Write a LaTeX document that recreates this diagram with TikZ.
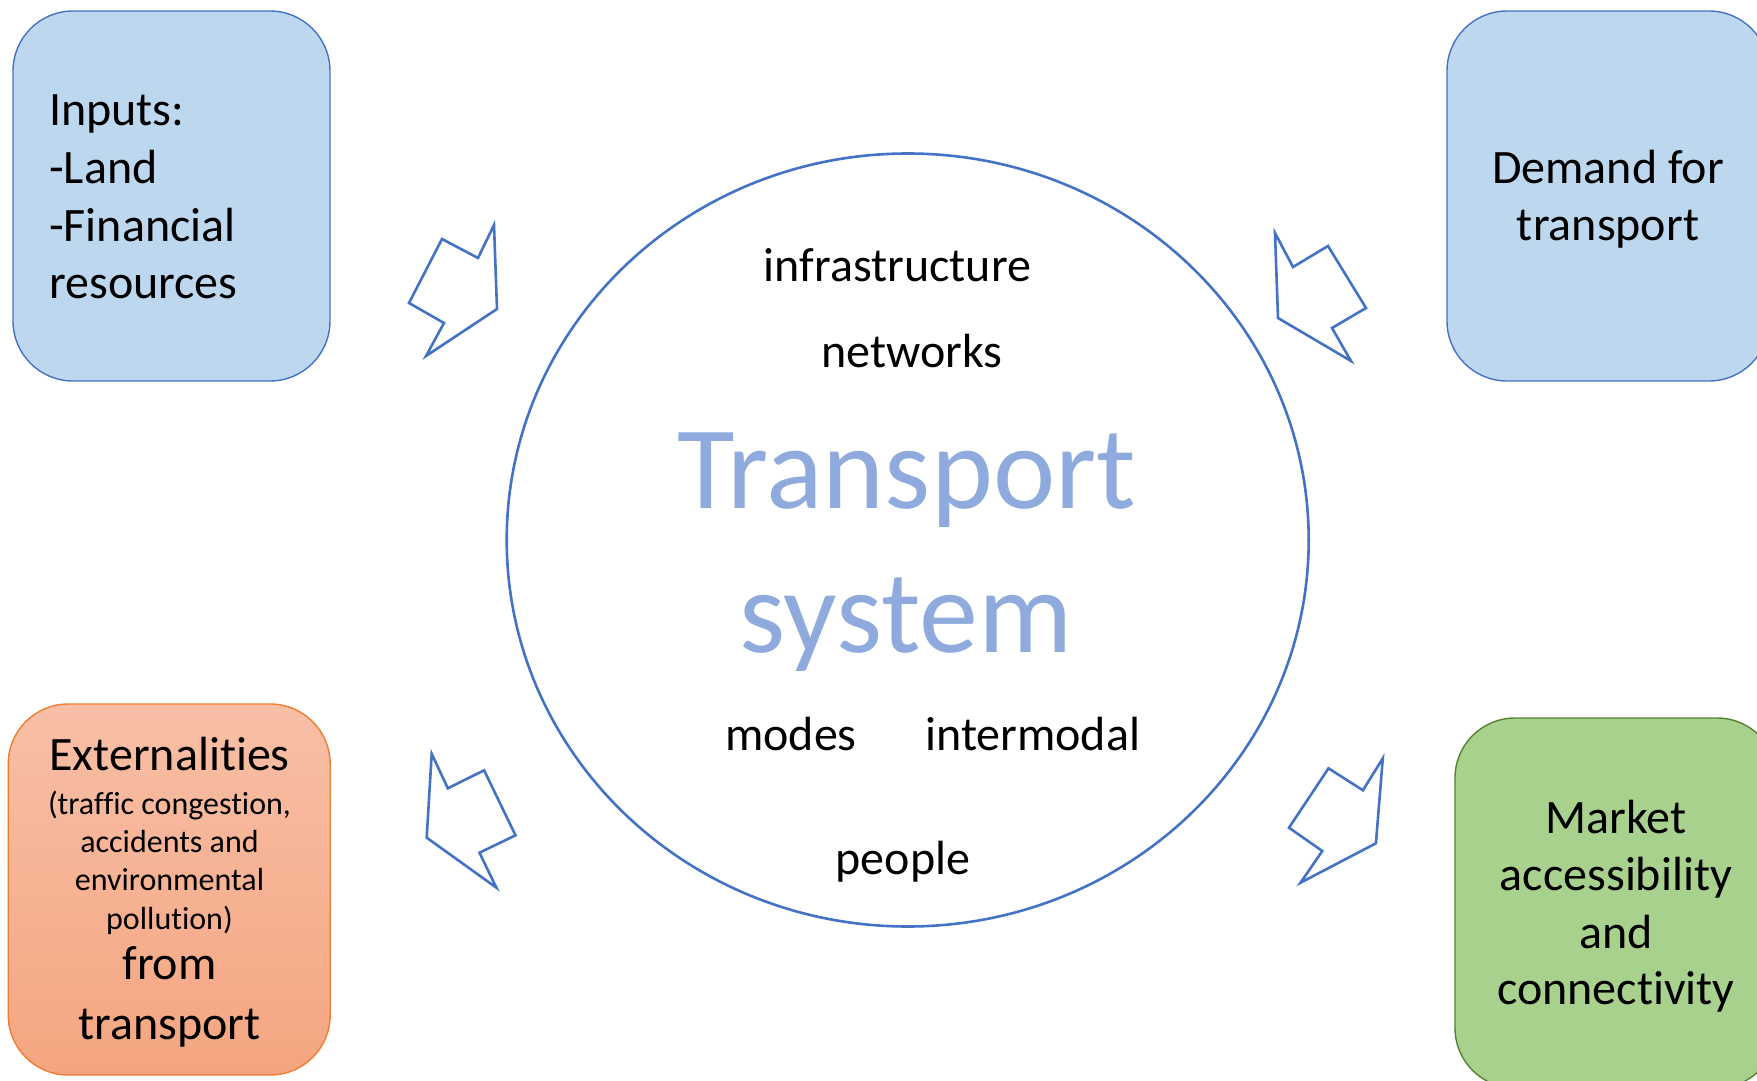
\documentclass[tikz,border=0pt]{standalone}
\usepackage{fontspec}
\setmainfont[Ligatures={NoCommon}]{Carlito}
\usetikzlibrary{shapes.geometric}
\definecolor{boxblue}{HTML}{BDD7EE}
\definecolor{lineblue}{HTML}{4472C4}
\definecolor{titleblue}{HTML}{8FAADC}
\definecolor{orangetop}{HTML}{F8BFA6}
\definecolor{orangebot}{HTML}{F4A580}
\definecolor{orangeline}{HTML}{ED7D31}
\definecolor{greenfill}{HTML}{A9D18E}
\definecolor{greenline}{HTML}{548235}
\tikzset{
  roundbox/.style={rounded corners=60pt, line width=1.4pt, inner sep=0pt, minimum width=320pt, minimum height=370pt},
  bigtxt/.style={anchor=base, inner sep=0pt, font=\fontsize{48}{58}\selectfont},
  smalltxt/.style={anchor=base, inner sep=0pt, font=\fontsize{32}{38}\selectfont},
  titletxt/.style={anchor=base, inner sep=0pt, text=titleblue, font=\fontsize{118}{140}\selectfont},
  blockarrow/.style={draw=lineblue, fill=white, line width=2.6pt, line join=miter}
}
\begin{document}
\begin{tikzpicture}[x=1pt, y=-1pt]
\useasboundingbox (0,0) rectangle (1757,1081);
\clip (0,0) rectangle (1757,1081);
% boxes
\node[roundbox, draw=lineblue, fill=boxblue, minimum width=317pt] (inputs) at (171.5,196) {};
\node[roundbox, draw=lineblue, fill=boxblue, minimum width=322pt] (demand) at (1608,196) {};
\node[roundbox, draw=orangeline, top color=orangetop, bottom color=orangebot, minimum width=322pt, minimum height=371pt] (ext) at (169.2,889.5) {};
\node[roundbox, draw=greenline, fill=greenfill, minimum width=322pt] (market) at (1616,903) {};
% ellipse
\node[draw=lineblue, line width=2.6pt, ellipse, minimum width=802pt, minimum height=773pt, inner sep=0pt] (sys) at (907.7,540) {};
% box texts
\node[bigtxt, anchor=base west] (in1) at (49,125) {Inputs:};
\node[bigtxt, anchor=base west] (in2) at (49,183) {-Land};
\node[bigtxt, anchor=base west] (in3) at (49,241) {-Financial};
\node[bigtxt, anchor=base west] (in4) at (49,298) {resources};
\node[bigtxt] (de1) at (1608,183) {Demand for};
\node[bigtxt] (de2) at (1608,240) {transport};
\node[bigtxt] (ex1) at (169.5,770) {Externalities};
\node[smalltxt] (ex2) at (169.5,814) {(traffic congestion,};
\node[smalltxt] (ex3) at (169.5,852) {accidents and};
\node[smalltxt] (ex4) at (169.5,890) {environmental};
\node[smalltxt] (ex5) at (169.5,929) {pollution)};
\node[bigtxt] (ex6) at (169.5,979) {from};
\node[bigtxt] (ex7) at (169.5,1039) {transport};
\node[bigtxt] (ma1) at (1616,833) {Market};
\node[bigtxt] (ma2) at (1616,890) {accessibility};
\node[bigtxt] (ma3) at (1616,948) {and};
\node[bigtxt] (ma4) at (1616,1004) {connectivity};
% ellipse texts
\node[bigtxt] (infra) at (897.5,281) {infrastructure};
\node[bigtxt] (net) at (912,367) {networks};
\node[titletxt] (ts1) at (906.7,508) {Transport};
\node[titletxt] (ts2) at (906,652) {system};
\node[bigtxt] (modes) at (791,750) {modes};
\node[bigtxt] (inter) at (1032.7,750) {intermodal};
\node[bigtxt] (people) at (903,874) {people};
% block arrows
\draw[blockarrow] (494,225) -- (497,309) -- (426,356) -- (444,323) -- (409,303) -- (442,239) -- (478,258) -- cycle;
\draw[blockarrow] (1275,233) -- (1293,267) -- (1328,246) -- (1366,308) -- (1332,328) -- (1351,361) -- (1278,318) -- cycle;
\draw[blockarrow] (431.7,753.7) -- (447.8,788.3) -- (484.1,770.3) -- (515.5,835.3) -- (479.5,852.7) -- (496.4,887.7) -- (426.7,837.7) -- cycle;
\draw[blockarrow] (1382.8,758.3) -- (1375.9,843.3) -- (1300.5,882.7) -- (1322.3,851) -- (1289,827.7) -- (1328.5,768.3) -- (1362.9,790.3) -- cycle;
\end{tikzpicture}
\end{document}
